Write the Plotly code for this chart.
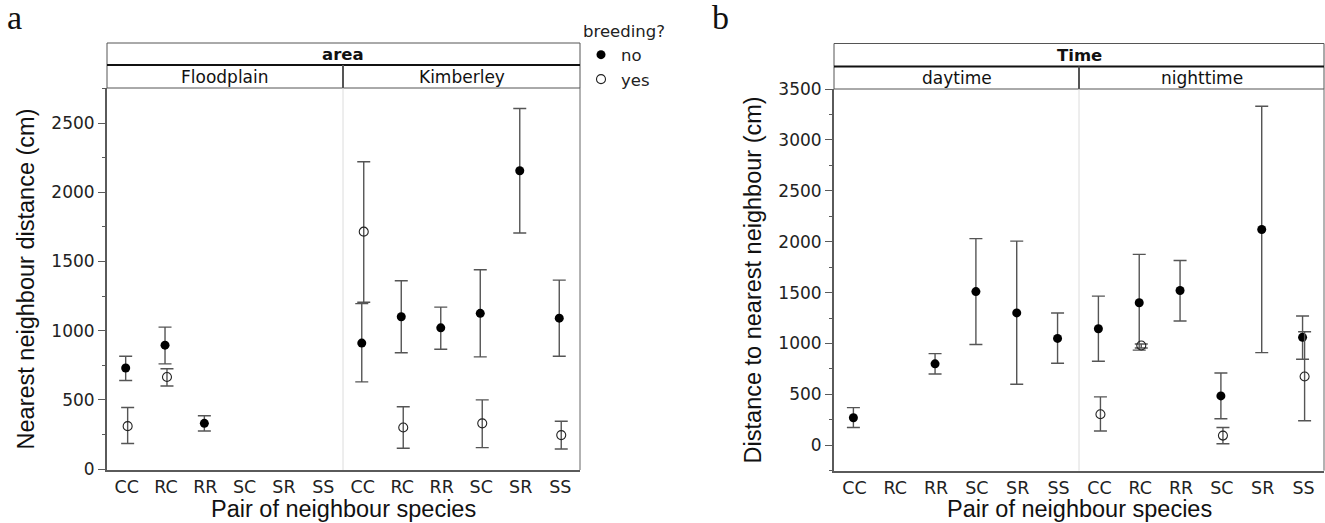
import plotly.graph_objects as go

# ---------------- data ----------------
categories = ["CC", "RC", "RR", "SC", "SR", "SS"]

# Panel a: area facets, breeding? no / yes  (mean, lower, upper)
flood_no_mean = [730, 895, 330, None, None, None]
flood_no_low = [640, 760, 275, None, None, None]
flood_no_high = [815, 1025, 385, None, None, None]
flood_yes_mean = [310, 665, None, None, None, None]
flood_yes_low = [185, 600, None, None, None, None]
flood_yes_high = [445, 725, None, None, None, None]

kimb_no_mean = [910, 1100, 1020, 1125, 2155, 1090]
kimb_no_low = [630, 840, 865, 810, 1705, 815]
kimb_no_high = [1195, 1360, 1170, 1440, 2605, 1365]
kimb_yes_mean = [1715, 300, None, 330, None, 245]
kimb_yes_low = [1205, 150, None, 155, None, 145]
kimb_yes_high = [2220, 450, None, 500, None, 345]

# Panel b: time facets
day_no_mean = [270, None, 800, 1510, 1300, 1050]
day_no_low = [175, None, 700, 990, 600, 805]
day_no_high = [370, None, 900, 2030, 2005, 1300]

night_no_mean = [1145, 1400, 1520, 485, 2120, 1060]
night_no_low = [825, 935, 1220, 260, 910, 845]
night_no_high = [1465, 1875, 1815, 710, 3330, 1270]
night_yes_mean = [305, 980, None, 95, None, 675]
night_yes_low = [140, 955, None, 15, None, 240]
night_yes_high = [475, 995, None, 175, None, 1115]

ytick_a = [0, 500, 1000, 1500, 2000, 2500]
ytick_b = [0, 500, 1000, 1500, 2000, 2500, 3000, 3500]

# ---------------- layout helpers ----------------
W, H = 1325, 523
def px(x):
    return x / W
def py(y):
    return 1 - y / H

TICKFONT = dict(family="DejaVu Sans", size=17, color="#222")
TITLEFONT = dict(family="Liberation Sans, Arial", size=23.5, color="#111")
AXCOL = "#5a5a5a"

fig = go.Figure()

def add(xaxis, yaxis, means, lows, highs, filled, name, showlegend):
    off = -0.025 if filled else 0.025
    xs = [i + off for i in range(len(categories))]
    up = [h - m if m is not None else None for m, h in zip(means, highs)]
    dn = [m - l if m is not None else None for m, l in zip(means, lows)]
    if filled:
        marker = dict(symbol="circle", size=9, color="black", line=dict(width=0))
    else:
        marker = dict(symbol="circle-open", size=9, color="#222", line=dict(width=1.1))
    fig.add_trace(go.Scatter(
        x=xs, y=means, mode="markers", xaxis=xaxis, yaxis=yaxis,
        marker=marker, name=name, legendgroup=name, showlegend=showlegend,
        error_y=dict(type="data", symmetric=False, array=up, arrayminus=dn,
                     color="#555", thickness=1.4, width=6.5),
        cliponaxis=False,
    ))

add("x", "y", flood_no_mean, flood_no_low, flood_no_high, True, "no", True)
add("x", "y", flood_yes_mean, flood_yes_low, flood_yes_high, False, "yes", True)
add("x2", "y", kimb_no_mean, kimb_no_low, kimb_no_high, True, "no", False)
add("x2", "y", kimb_yes_mean, kimb_yes_low, kimb_yes_high, False, "yes", False)
add("x3", "y2", day_no_mean, day_no_low, day_no_high, True, "no", False)
add("x4", "y2", night_no_mean, night_no_low, night_no_high, True, "no", False)
add("x4", "y2", night_yes_mean, night_yes_low, night_yes_high, False, "yes", False)

def xax(x0, x1, anchor):
    return dict(domain=[px(x0), px(x1)], range=[-0.5, 5.5], anchor=anchor,
                tickvals=list(range(len(categories))), ticktext=categories,
                ticks="", 
                tickfont=dict(family="DejaVu Sans", size=17.5, color="#222"),
                showline=True, linecolor=AXCOL, linewidth=2,
                showgrid=False, zeroline=False, fixedrange=True, automargin=False)

def yax(y0, y1, rng, tickvals, anchor, title):
    return dict(domain=[py(y1), py(y0)], range=rng, anchor=anchor,
                tickvals=tickvals, ticks="outside", ticklen=7, tickcolor=AXCOL,
                tickwidth=1, tickfont=TICKFONT,
                minor=dict(dtick=250, ticklen=3, tickcolor=AXCOL, ticks="outside"),
                showline=True, linecolor=AXCOL, linewidth=2,
                showgrid=False, zeroline=False, automargin=False,
                title=dict(text=title, font=TITLEFONT, standoff=10))

fig.update_layout(
    width=W, height=H,
    margin=dict(l=0, r=0, t=0, b=0, pad=0, autoexpand=False),
    paper_bgcolor="white", plot_bgcolor="white",
    xaxis=xax(107, 343, "y"),
    xaxis2=xax(343, 580, "y"),
    xaxis3=xax(834, 1079, "y2"),
    xaxis4=xax(1079, 1324, "y2"),
    yaxis=yax(88, 470, [-7, 2753], ytick_a, "x", "Nearest neighbour distance (cm)"),
    yaxis2=yax(89, 470.7, [-250, 3500], ytick_b, "x3", "Distance to nearest neighbour (cm)"),
    legend=dict(x=px(581), y=py(16), xanchor="left", yanchor="top",
                bgcolor="rgba(0,0,0,0)", font=dict(family="DejaVu Sans", size=16.5, color="#222"),
                title=dict(text="breeding?", font=dict(family="DejaVu Sans", size=16.5, color="#222")),
                tracegroupgap=0, itemsizing="trace"),
    showlegend=True,
)

shapes = []
def line(x0, y0, x1, y1, color, width):
    shapes.append(dict(type="line", xref="paper", yref="paper",
                       x0=px(x0), y0=py(y0), x1=px(x1), y1=py(y1),
                       line=dict(color=color, width=width)))
def rect(x0, y0, x1, y1):
    shapes.append(dict(type="rect", xref="paper", yref="paper",
                       x0=px(x0), y0=py(y0), x1=px(x1), y1=py(y1),
                       line=dict(color="#555", width=1), fillcolor="white", layer="below"))

annotations = []
def text(x, y, s, size=17, bold=False, family="DejaVu Sans", color="#111"):
    annotations.append(dict(x=px(x), y=py(y), xref="paper", yref="paper",
                            text=f"<b>{s}</b>" if bold else s, showarrow=False,
                            xanchor="center", yanchor="middle",
                            font=dict(family=family, size=size, color=color)))

def facet_panel(xl, xm, xr, ytop, ymid, ystrip, ybot, header, left, right):
    rect(xl, ytop, xr, ymid)
    rect(xl, ymid, xm, ystrip)
    rect(xm, ymid, xr, ystrip)
    line(xl, ymid, xr, ymid, "#111", 2)
    line(xm, ymid, xm, ystrip, "#555", 2)
    line(xm, ystrip, xm, ybot, "#dcdcdc", 1)
    line(xr, ystrip, xr, ybot, "#666", 1)
    text((xl + xr) / 2, (ytop + ymid) / 2 + 0.5, header, size=16.5, bold=True)
    text((xl + xm) / 2, (ymid + ystrip) / 2 + 0.5, left)
    text((xm + xr) / 2, (ymid + ystrip) / 2 + 0.5, right)
    text((xl + xr) / 2, 509, "Pair of neighbour species", size=23.5,
         family="Liberation Sans, Arial")

facet_panel(107, 343, 580, 43, 65, 88, 470, "area", "Floodplain", "Kimberley")
facet_panel(834, 1079, 1324, 43.5, 66.5, 89, 470.7, "Time", "daytime", "nighttime")

text(15, 17, "a", size=34, family="Liberation Serif, Times New Roman", color="#111")
text(720, 17, "b", size=34, family="Liberation Serif, Times New Roman", color="#111")

fig.update_layout(shapes=shapes, annotations=annotations)
fig.write_html("out.html")
